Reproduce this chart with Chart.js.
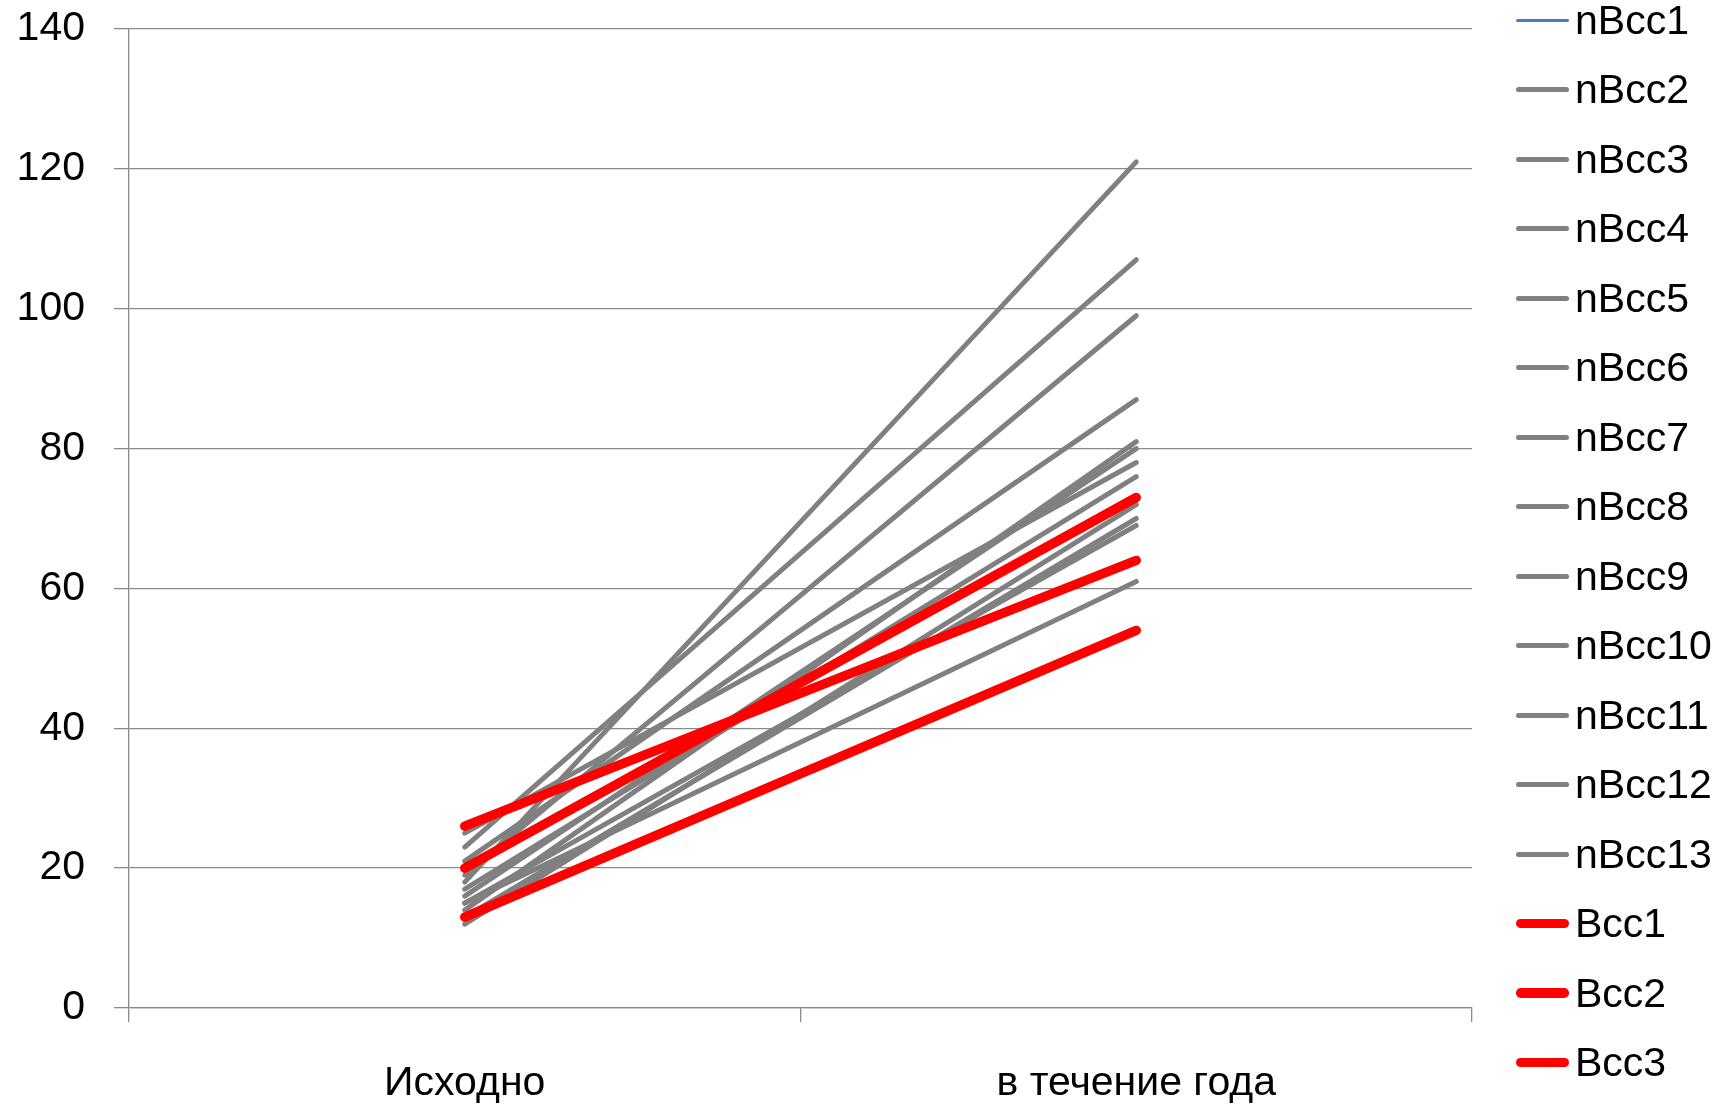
<!DOCTYPE html>
<html>
<head>
<meta charset="utf-8">
<script src="https://cdn.jsdelivr.net/npm/chart.js@4.4.1/dist/chart.umd.min.js"></script>
<style>
  html, body { margin: 0; padding: 0; background: #fff; overflow: hidden; }
  #wrap { position: relative; width: 1735px; height: 1108px; }
  #c { position: absolute; left: 0; top: 0; }
  #legend {
    position: absolute; left: 1516px; top: -14.75px;
    font-family: "Liberation Sans", Arial, sans-serif; font-size: 41px; color: #000;
  }
  #legend .item { height: 69.5px; display: flex; align-items: center; white-space: nowrap; }
  #legend .swatch { width: 53px; margin-right: 6px; }
</style>
</head>
<body>
<div id="wrap">
  <canvas id="c" width="1735" height="1108"></canvas>
  <div id="legend"></div>
</div>
<script>
// Time points
const categories = ['Исходно', 'в течение года'];

// Series without the condition (nBcc1 has no values)
const nBccNames = ['nBcc1', 'nBcc2', 'nBcc3', 'nBcc4', 'nBcc5', 'nBcc6', 'nBcc7',
                   'nBcc8', 'nBcc9', 'nBcc10', 'nBcc11', 'nBcc12', 'nBcc13'];
const nBccStart = [null, 18, 23, 19, 21, 14, 16, 25, 17, 13, 15, 15, 12];
const nBccYear  = [null, 121, 107, 99, 87, 81, 80, 78, 76, 70, 69, 61, 72];

// Series with the condition
const bccNames = ['Bcc1', 'Bcc2', 'Bcc3'];
const bccStart = [20, 26, 13];
const bccYear  = [73, 64, 54];

// Value axis
const yMin = 0, yMax = 140, yStep = 20;

const FONT = '"Liberation Sans", Arial, sans-serif';
const GRID = '#8a8a8a';
const GRAY = '#808080';
const RED = '#ff0000';
const BLUE = '#4a7ebb';

const datasets = [];
const total = nBccNames.length + bccNames.length;
nBccNames.forEach((name, i) => {
  datasets.push({
    label: name,
    data: [nBccStart[i], nBccYear[i]],
    borderColor: i === 0 ? BLUE : GRAY,
    backgroundColor: i === 0 ? BLUE : GRAY,
    borderWidth: i === 0 ? 3 : 5,
    order: total - datasets.length   // later series are painted on top
  });
});
bccNames.forEach((name, i) => {
  datasets.push({
    label: name,
    data: [bccStart[i], bccYear[i]],
    borderColor: RED,
    backgroundColor: RED,
    borderWidth: 9.5,
    order: total - datasets.length
  });
});
datasets.forEach(d => {
  d.pointRadius = 0;
  d.pointHoverRadius = 0;
  d.borderCapStyle = 'round';
  d.borderJoinStyle = 'round';
  d.tension = 0;
  d.fill = false;
});

const chart = new Chart(document.getElementById('c'), {
  type: 'line',
  data: { labels: categories, datasets },
  options: {
    responsive: false,
    animation: false,
    devicePixelRatio: 1,
    layout: { padding: { left: 0, top: 29, right: 263, bottom: 0 } },
    plugins: { legend: { display: false }, tooltip: { enabled: false } },
    scales: {
      x: {
        type: 'category',
        offset: true,
        grid: { offset: true, drawOnChartArea: false, drawTicks: true, tickLength: 14, color: GRID, lineWidth: 1.3 },
        border: { display: true, color: GRID, width: 1.3 },
        ticks: { color: '#000', font: { family: FONT, size: 41 }, padding: 37, maxRotation: 0, autoSkip: false },
        afterFit(scale) {
          scale.height = 100;
          scale.paddingLeft = 0; scale.paddingRight = 0;
        }
      },
      y: {
        min: yMin, max: yMax,
        ticks: { stepSize: yStep, color: '#000', font: { family: FONT, size: 41 }, padding: 29 },
        grid: { color: GRID, lineWidth: 1.3, tickLength: 15 },
        border: { display: true, color: GRID, width: 1.3 },
        afterFit(scale) {
          scale.width = 129;
          scale.paddingTop = 0; scale.paddingBottom = 0;
        }
      }
    }
  }
});

// Legend built from the chart's own legend items, in series order
const legendEl = document.getElementById('legend');
Chart.defaults.plugins.legend.labels.generateLabels(chart)
  .sort((a, b) => a.datasetIndex - b.datasetIndex)
  .forEach(item => {
    const row = document.createElement('div');
    row.className = 'item';
    const sw = document.createElement('span');
    sw.className = 'swatch';
    sw.style.height = item.lineWidth + 'px';
    sw.style.background = item.strokeStyle;
    sw.style.borderRadius = (item.lineWidth / 2) + 'px';
    const txt = document.createElement('span');
    txt.textContent = item.text;
    row.appendChild(sw);
    row.appendChild(txt);
    legendEl.appendChild(row);
  });
</script>
</body>
</html>
